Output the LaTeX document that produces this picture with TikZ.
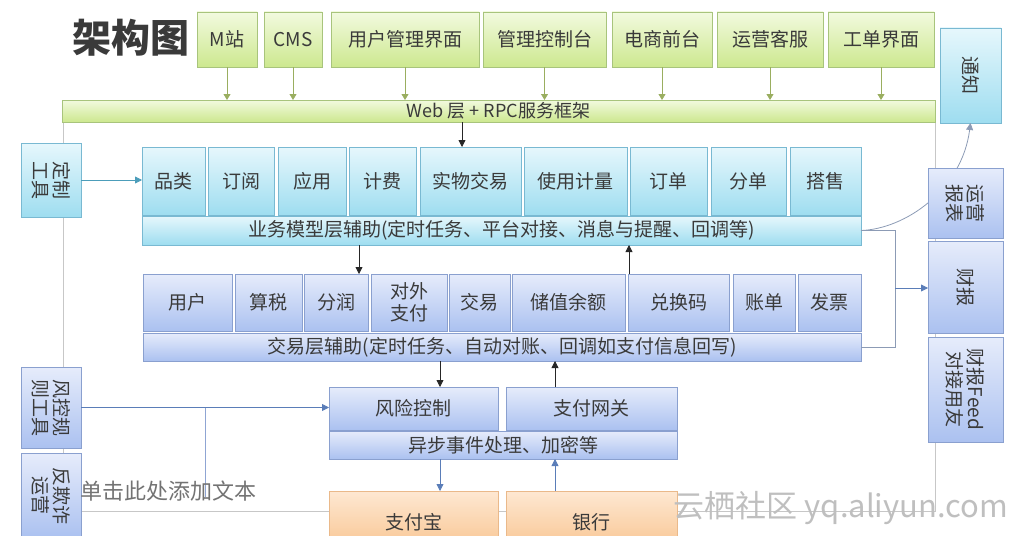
\documentclass[tikz,border=0pt]{standalone}
\usepackage{fontspec}
\setmainfont{Noto Sans CJK SC}
\usetikzlibrary{arrows.meta,shadows}
\definecolor{ink}{HTML}{3A3A3A}
\definecolor{gtop}{HTML}{F2FADF}
\definecolor{gbot}{HTML}{CDE88F}
\definecolor{gline}{HTML}{A8C47C}
\definecolor{garr}{HTML}{9AAE60}
\definecolor{ctop}{HTML}{E6F7FC}
\definecolor{cbot}{HTML}{9EDDF0}
\definecolor{cline}{HTML}{79B9D2}
\definecolor{carr}{HTML}{4C9DBA}
\definecolor{btop}{HTML}{E6ECFB}
\definecolor{bbot}{HTML}{ABC1F0}
\definecolor{bline}{HTML}{8AA0CF}
\definecolor{barr}{HTML}{5A7DB8}
\definecolor{blink}{HTML}{8FA5D3}
\definecolor{otop}{HTML}{FEE8D2}
\definecolor{obot}{HTML}{F8C38E}
\definecolor{oline}{HTML}{EAB98A}
\definecolor{curv}{HTML}{8C9BB5}
\begin{document}
\begin{tikzpicture}[
  x=1pt, y=-1pt,
  box/.style={draw, line width=0.7pt, inner sep=0pt, outer sep=0pt, align=center,
    text=ink, font=\fontsize{19}{21}\selectfont,
    drop shadow={shadow xshift=1pt, shadow yshift=-1.2pt, opacity=0.25}},
  green/.style={box, draw=gline, top color=gtop, bottom color=gbot},
  cyan/.style={box, draw=cline, top color=ctop, bottom color=cbot},
  blue/.style={box, draw=bline, top color=btop, bottom color=bbot},
  orange/.style={box, draw=oline, top color=otop, bottom color=obot},
  side/.style={rotate=-90},
  front/.style={green, minimum height=55pt},
  biz/.style={cyan, minimum height=68pt},
  tradebox/.style={blue, minimum height=57pt},
  garrow/.style={-{Triangle[width=7pt,length=6pt]}, line width=0.8pt, draw=garr},
  darrow/.style={-{Triangle[width=7pt,length=7pt]}, line width=0.8pt, draw=black!85},
  barrow/.style={-{Triangle[width=7pt,length=7pt]}, line width=0.8pt, draw=barr},
  carrow/.style={-{Triangle[width=7pt,length=7pt]}, line width=0.8pt, draw=carr},
  flow/.style={-{Triangle[width=7pt,length=7pt]}, line width=0.8pt, draw=curv},
  link/.style={line width=0.8pt, draw=blink},
  frame/.style={line width=0.6pt, draw=black!22}
]
\useasboundingbox (0,0) rectangle (1019,535);
\clip (0,0) rectangle (1019,535);
\draw[frame] (63,122) rectangle (935,511);

\node[font=\fontsize{39}{40}\selectfont\bfseries, text=ink] (title) at (131,38) {架构图};

\node[front, minimum width=60pt] (msite) at (227,39.5) {M站};
\node[front, minimum width=58pt] (cms) at (293,39.5) {CMS};
\node[front, minimum width=148pt] (usermgr) at (405,39.5) {用户管理界面};
\node[front, minimum width=123pt] (console) at (544.5,39.5) {管理控制台};
\node[front, minimum width=100pt] (shop) at (662,39.5) {电商前台};
\node[front, minimum width=106pt] (opsvc) at (770,39.5) {运营客服};
\node[front, minimum width=106pt] (ticket) at (881,39.5) {工单界面};
\node[green, minimum width=873pt, minimum height=22pt, font=\fontsize{18}{20}\selectfont] (web) at (498.5,111) {Web 层 + RPC服务框架};

\node[cyan, side, minimum width=95pt, minimum height=61pt] (notify) at (970.5,75.5) {通知};
\node[cyan, side, minimum width=74pt, minimum height=60pt] (custom) at (51,180) {定制\\工具};

\node[biz, minimum width=63pt] (category) at (173.5,181) {品类};
\node[biz, minimum width=66pt] (subscribe) at (241,181) {订阅};
\node[biz, minimum width=68pt] (app) at (312,181) {应用};
\node[biz, minimum width=67pt] (billing) at (382.5,181) {计费};
\node[biz, minimum width=101pt] (physical) at (470.5,181) {实物交易};
\node[biz, minimum width=103pt] (metering) at (575.5,181) {使用计量};
\node[biz, minimum width=77pt] (order) at (668.5,181) {订单};
\node[biz, minimum width=75pt] (split) at (748.5,181) {分单};
\node[biz, minimum width=71pt] (bundle) at (825.5,181) {搭售};
\node[cyan, minimum width=719pt, minimum height=29pt] (bizaux) at (501.5,230.5) {业务模型层辅助(定时任务、平台对接、消息与提醒、回调等)};

\node[tradebox, minimum width=89pt] (user) at (187.5,302.5) {用户};
\node[tradebox, minimum width=67pt] (tax) at (268.5,302.5) {算税};
\node[tradebox, minimum width=64pt] (share) at (336,302.5) {分润};
\node[tradebox, minimum width=76pt, font=\fontsize{19}{22}\selectfont] (extpay) at (409,302.5) {对外\\支付};
\node[tradebox, minimum width=61pt] (trade) at (479.5,302.5) {交易};
\node[tradebox, minimum width=113pt] (balance) at (568.5,302.5) {储值余额};
\node[tradebox, minimum width=101pt] (redeem) at (678.5,302.5) {兑换码};
\node[tradebox, minimum width=62pt] (bill) at (764,302.5) {账单};
\node[tradebox, minimum width=63pt] (invoice) at (829.5,302.5) {发票};
\node[blue, minimum width=718pt, minimum height=28pt] (tradeaux) at (502,347) {交易层辅助(定时任务、自动对账、回调如支付信息回写)};

\draw[flow] (bizaux.east) .. controls (905,229) and (962,190) .. (notify.east);

\node[blue, side, minimum width=70pt, minimum height=75pt] (opsreport) at (965.5,203) {运营\\报表};
\node[blue, side, minimum width=92pt, minimum height=75pt] (finreport) at (965.5,287) {财报};
\node[blue, side, minimum width=105pt, minimum height=75pt] (feed) at (965.5,389.5) {财报Feed\\对接用友};

\node[blue, side, minimum width=81pt, minimum height=60pt] (riskrules) at (51,407.5) {风控规\\则工具};
\node[blue, side, minimum width=85pt, minimum height=60pt] (antifraud) at (51,495.5) {反欺诈\\运营};

\node[blue, minimum width=169pt, minimum height=43pt] (risk) at (413.5,408.5) {风险控制};
\node[blue, minimum width=171pt, minimum height=43pt] (gateway) at (591.5,408.5) {支付网关};
\node[blue, minimum width=348pt, minimum height=28pt] (asyncaux) at (503,445) {异步事件处理、加密等};
\node[orange, minimum width=169pt, minimum height=62pt] (alipay) at (413.5,522) {支付宝};
\node[orange, minimum width=171pt, minimum height=62pt] (bank) at (591.5,522) {银行};

\foreach \n in {msite,cms,usermgr,console,shop,opsvc,ticket}
  \draw[garrow] (\n.south) -- (\n.south |- web.north);
\draw[darrow] ([xshift=-8.5pt]physical.north |- web.south) -- ([xshift=-8.5pt]physical.north);
\draw[darrow] ([xshift=23pt]share.north |- bizaux.south) -- ([xshift=23pt]share.north);
\draw[darrow] ([xshift=1pt]redeem.north west) -- ([xshift=1pt]redeem.north west |- bizaux.south);
\draw[darrow] ([xshift=26.5pt]risk.north |- tradeaux.south) -- ([xshift=26.5pt]risk.north);
\draw[darrow] ([xshift=-36.5pt]gateway.north) -- ([xshift=-36.5pt]gateway.north |- tradeaux.south);
\draw[barrow] ([xshift=26.5pt]alipay.north |- asyncaux.south) -- ([xshift=26.5pt]alipay.north);
\draw[barrow] ([xshift=-36.5pt]bank.north) -- ([xshift=-36.5pt]bank.north |- asyncaux.south);

\draw[carrow] (custom.north) -- (custom.north -| category.west);
\draw[barrow] (riskrules.north) -- (riskrules.north -| risk.west);
\coordinate (tap) at (205,407.5);
\coordinate (tapend) at (205,497);
\draw[link] (tap) -- (tapend);

\coordinate (brk) at (895,288);
\draw[link, draw=curv] (bizaux.east) -| (brk) |- (tradeaux.east);
\draw[barrow] (brk) -- (brk -| finreport.south);

\node[text=black!55, font=\fontsize{22}{24}\selectfont] (hint) at (168,491) {单击此处添加文本};
\node[text=black!25, font=\fontsize{31}{33}\selectfont] (wmark) at (841,508) {云栖社区 yq.aliyun.com};
\end{tikzpicture}
\end{document}
